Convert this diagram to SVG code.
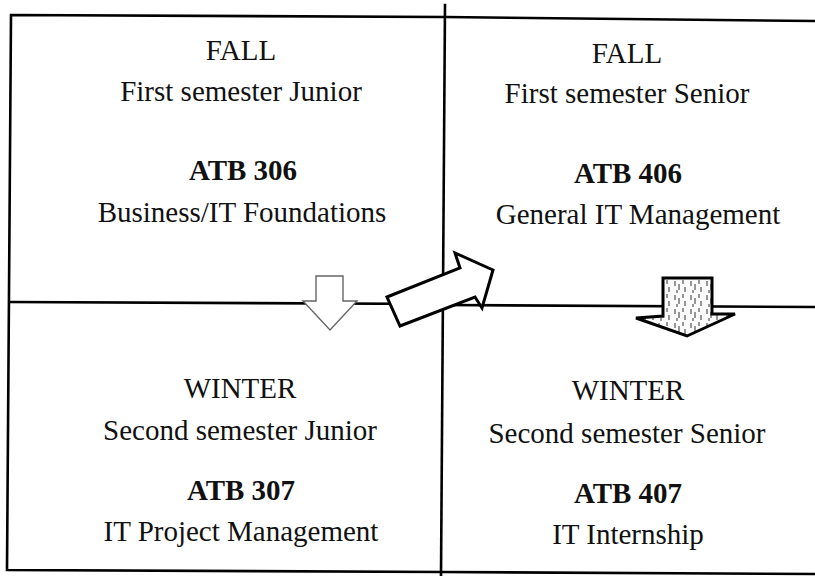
<svg xmlns="http://www.w3.org/2000/svg" width="815" height="576" viewBox="0 0 815 576">
  <style>
    .frame { fill: none; stroke: #000; stroke-width: 2.6; stroke-linecap: square; stroke-linejoin: miter; }
    .t { font-family: "Liberation Serif", "Times New Roman", serif; font-size: 29px; fill: #111; text-anchor: middle; }
    .b { font-weight: bold; }
    .hollow { fill: #fff; stroke: #666; stroke-width: 1.4; }
    .bold-arrow { fill: #fff; stroke: #000; stroke-width: 3; stroke-linejoin: miter; }
    .tex-arrow { fill: url(#grain); stroke: #000; stroke-width: 3; stroke-linejoin: miter; }
  </style>
  <defs>
    <pattern id="grain" patternUnits="userSpaceOnUse" width="16" height="14">
      <rect width="16" height="14" fill="#fafafa"/>
      <path d="M3 1v5M7 4v6M11 0v4M13 7v5M5 10v3" stroke="#333" stroke-width="1"/>
    </pattern>
  </defs>
  <rect width="815" height="576" fill="#fff"/>

  <!-- grid lines of the four-quarter plan -->
  <g id="connectors">
    <polyline class="frame" points="815,21 445,17 11,15 7,570 443,572 815,574"/>
    <line class="frame" x1="445" y1="5" x2="441" y2="576"/>
    <line class="frame" x1="10" y1="302" x2="443" y2="304"/>
    <line class="frame" x1="443" y1="305" x2="815" y2="307"/>

    <!-- Junior fall to winter -->
    <polygon id="arrow-junior" class="hollow" points="316,276 343,276 343,301 357,301 330,330 303,301 316,301"/>
    <!-- Junior winter to Senior fall -->
    <polygon id="arrow-cross" class="bold-arrow" points="387,297 460,268 455,253 493,270 482,308 475,297 400,326"/>
    <!-- Senior fall to winter -->
    <polygon id="arrow-senior" class="tex-arrow" points="663,278 712,278 712,314 735,314 687,336 636,318 663,316"/>
  </g>

  <g id="junior-fall">
    <text class="t" x="241" y="60">FALL</text>
    <text class="t" x="241" y="101">First semester Junior</text>
    <text class="t b" x="243" y="180">ATB 306</text>
    <text class="t" x="242" y="222">Business/IT Foundations</text>
  </g>

  <g id="senior-fall">
    <text class="t" x="627" y="63">FALL</text>
    <text class="t" x="627" y="103">First semester Senior</text>
    <text class="t b" x="628" y="183">ATB 406</text>
    <text class="t" x="638" y="224">General IT Management</text>
  </g>

  <g id="junior-winter">
    <text class="t" x="240" y="398">WINTER</text>
    <text class="t" x="240" y="440">Second semester Junior</text>
    <text class="t b" x="241" y="500">ATB 307</text>
    <text class="t" x="241" y="541">IT Project Management</text>
  </g>

  <g id="senior-winter">
    <text class="t" x="628" y="400">WINTER</text>
    <text class="t" x="627" y="443">Second semester Senior</text>
    <text class="t b" x="628" y="503">ATB 407</text>
    <text class="t" x="628" y="544">IT Internship</text>
  </g>
</svg>
